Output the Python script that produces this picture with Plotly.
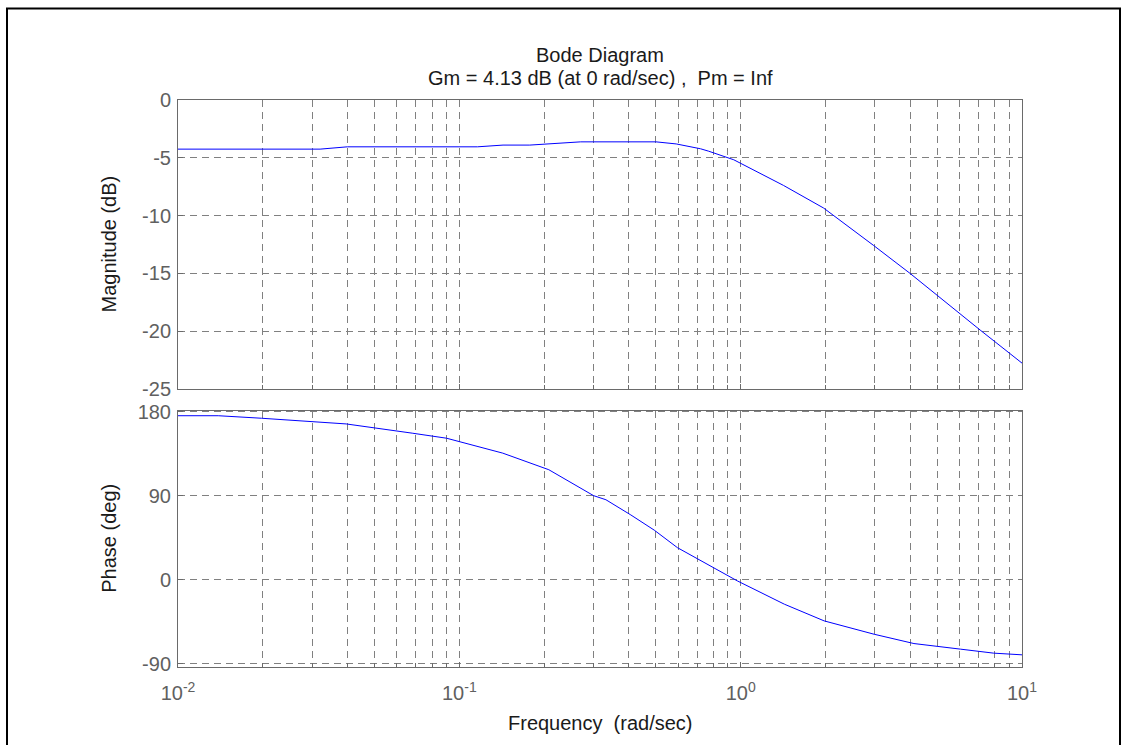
import plotly.graph_objects as go
from plotly.subplots import make_subplots

# ---- data ----
mag_freq = [0.01, 0.032, 0.04, 0.116, 0.143, 0.178, 0.27, 0.5, 0.59, 0.72, 0.77, 0.945,
            1.42, 1.97, 2.96, 4.0, 7.1, 9.1, 10]
mag_db = [-4.25, -4.25, -4.05, -4.05, -3.9, -3.9, -3.62, -3.62, -3.8, -4.22, -4.43, -5.17,
          -7.39, -9.34, -12.56, -15.0, -19.9, -21.96, -22.76]

phase_freq = [0.01, 0.0139, 0.0198, 0.0396, 0.068, 0.09, 0.1426, 0.208, 0.30, 0.332, 0.407,
              0.493, 0.596, 0.702, 0.783, 0.973, 1.43, 1.98, 2.98, 4.13, 6.04, 7.93, 10]
phase_deg = [175.7, 175.7, 173, 166.9, 157, 151.6, 135.6, 117.8, 90, 85.6, 69.3,
             53.0, 34.2, 22.2, 13.8, -1.4, -26.4, -44.3, -58.6, -68.6, -74.6, -78.9, -80.7]

x_tickvals = [0.01, 0.1, 1, 10]
x_ticktext = ["10<sup>-2</sup>", "10<sup>-1</sup>", "10<sup>0</sup>", "10<sup>1</sup>"]
mag_ticks = [0, -5, -10, -15, -20, -25]
mag_ticktext = ["0", "-5", "-10", "-15", "-20", "-25"]
phase_ticks = [180, 90, 0, -90]
phase_ticktext = ["180", "90", "0", "-90"]

title_line1 = "Bode Diagram"
title_line2 = "Gm = 4.13 dB (at 0 rad/sec) ,  Pm = Inf"
xlabel = "Frequency  (rad/sec)"
ylabel_mag = "Magnitude (dB)"
ylabel_phase = "Phase (deg)"

FONT = "Liberation Sans, Arial, sans-serif"
FS = 20
W, H = 1123, 745
ML, MR, MT, MB = 178, 101, 100, 78
PW, PH = W - ML - MR, H - MT - MB

def px(xp):
    return (xp - ML) / PW

def py(yp):
    return (H - MB - yp) / PH

fig = make_subplots(rows=2, cols=1, shared_xaxes=True, vertical_spacing=0.0)

fig.add_trace(go.Scatter(x=mag_freq, y=mag_db, mode="lines",
                         line=dict(color="#0000ff", width=1), showlegend=False), row=1, col=1)
fig.add_trace(go.Scatter(x=phase_freq, y=phase_deg, mode="lines",
                         line=dict(color="#0000ff", width=1), showlegend=False), row=2, col=1)

grid_common = dict(showgrid=True, gridcolor="#808080", gridwidth=1, griddash="7px,5px",
                   showline=True, linecolor="#6a6a6a", linewidth=1, mirror=True,
                   ticks="inside", ticklen=5, tickcolor="#6a6a6a", zeroline=False,
                   tickfont=dict(family=FONT, size=FS, color="#606060"))

xcommon = dict(type="log", range=[-2, 1], tickvals=x_tickvals, ticktext=x_ticktext,
               minor=dict(showgrid=True, gridcolor="#808080", griddash="7px,5px",
                          ticks="inside", ticklen=4, tickcolor="#6a6a6a",
                          tickvals=[m * 10 ** e for e in (-2, -1, 0) for m in range(2, 10)]),
               **grid_common)

fig.update_xaxes(**xcommon)
fig.update_xaxes(showticklabels=False, row=1, col=1)
fig.update_xaxes(ticklabelstandoff=8, row=2, col=1)

fig.update_yaxes(range=[-25, 0], tickvals=mag_ticks, ticktext=mag_ticktext,
                 ticklabelstandoff=2, row=1, col=1, **grid_common)
fig.update_yaxes(range=[-93.75, 181.3], tickvals=phase_ticks, ticktext=phase_ticktext,
                 ticklabelstandoff=2, row=2, col=1, **grid_common)

top_dom = [py(389), 1.0]
bot_dom = [0.0, py(410.5)]

tfont = dict(family=FONT, size=FS, color="#1a1a1a")
fig.update_layout(
    width=W, height=H,
    margin=dict(l=ML, r=MR, t=MT, b=MB),
    paper_bgcolor="white", plot_bgcolor="white",
    yaxis=dict(domain=top_dom),
    yaxis2=dict(domain=bot_dom),
    font=tfont,
    annotations=[
        dict(text=title_line1, xref="paper", yref="paper", x=0.5, y=py(55),
             showarrow=False, font=tfont, xanchor="center", yanchor="middle"),
        dict(text=title_line2, xref="paper", yref="paper", x=0.5, y=py(78),
             showarrow=False, font=tfont, xanchor="center", yanchor="middle"),
        dict(text=xlabel, xref="paper", yref="paper", x=0.5, y=py(723),
             showarrow=False, font=tfont, xanchor="center", yanchor="middle"),
        dict(text=ylabel_mag, xref="paper", yref="paper", x=px(109),
             y=(top_dom[0] + top_dom[1]) / 2, textangle=-90,
             showarrow=False, font=tfont, xanchor="center", yanchor="middle"),
        dict(text=ylabel_phase, xref="paper", yref="paper", x=px(109),
             y=(bot_dom[0] + bot_dom[1]) / 2, textangle=-90,
             showarrow=False, font=tfont, xanchor="center", yanchor="middle"),
    ],
    shapes=[
        dict(type="rect", xref="paper", yref="paper",
             x0=px(7), x1=px(1120), y0=py(760), y1=py(8.5),
             line=dict(color="black", width=2), fillcolor="rgba(0,0,0,0)", layer="above"),
    ],
)

fig.write_html("out.html")
